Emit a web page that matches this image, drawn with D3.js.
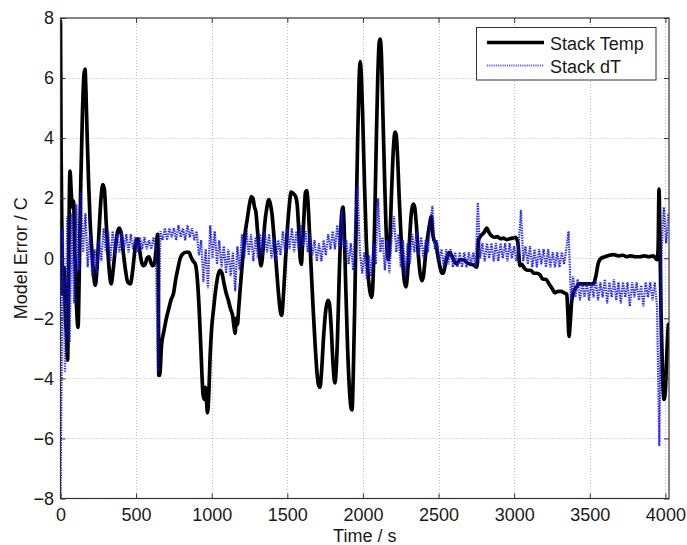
<!DOCTYPE html>
<html>
<head>
<meta charset="utf-8">
<script src="https://cdn.jsdelivr.net/npm/d3@7"></script>
<style>
  html, body { margin: 0; padding: 0; background: #ffffff; }
  svg { display: block; }
  text { font-family: "Liberation Sans", Arial, Helvetica, sans-serif; fill: #1a1a1a; }
</style>
</head>
<body>
<svg id="chart" width="687" height="545"></svg>
<script>
// ---- data -------------------------------------------------------------
const xTicks = [0, 500, 1000, 1500, 2000, 2500, 3000, 3500, 4000];
const yTicks = [-8, -6, -4, -2, 0, 2, 4, 6, 8];
const seriesNames = ["Stack Temp", "Stack dT"];

// Stack temperature model error (time in s, error in C)
const tempTime = [
  0, 4, 9, 16, 24, 32, 40, 47, 53, 58, 63, 70, 78, 86, 96, 106, 116, 124, 134, 145,
  155, 162, 168, 175, 186, 196, 208, 220, 230, 242, 255, 268, 280, 290, 302, 315, 326, 335, 348, 362,
  378, 390, 402, 415, 430, 445, 462, 475, 488, 500, 510, 522, 535, 548, 560, 572, 585, 598, 610, 622,
  632, 642, 646, 650, 656, 668, 685, 700, 715, 730, 748, 762, 778, 792, 810, 830, 850, 862, 878, 892,
  905, 918, 930, 942, 950, 958, 965, 972, 980, 990, 1000, 1012, 1025, 1040, 1055, 1068, 1080, 1095, 1110, 1125,
  1138, 1148, 1155, 1162, 1170, 1178, 1190, 1205, 1220, 1235, 1250, 1262, 1272, 1283, 1292, 1303, 1315, 1326, 1338, 1350,
  1365, 1378, 1388, 1398, 1412, 1428, 1442, 1455, 1463, 1472, 1485, 1498, 1512, 1525, 1540, 1555, 1565, 1575, 1585, 1593,
  1600, 1610, 1620, 1628, 1636, 1648, 1660, 1672, 1684, 1696, 1708, 1716, 1726, 1740, 1755, 1768, 1778, 1790, 1802, 1814,
  1822, 1832, 1842, 1852, 1862, 1868, 1876, 1886, 1898, 1910, 1922, 1928, 1936, 1946, 1956, 1966, 1975, 1982, 1990, 1998,
  2010, 2022, 2034, 2046, 2058, 2068, 2078, 2088, 2098, 2108, 2114, 2122, 2132, 2144, 2156, 2168, 2178, 2190, 2202, 2212,
  2220, 2228, 2240, 2252, 2264, 2275, 2285, 2295, 2308, 2320, 2332, 2342, 2352, 2365, 2378, 2390, 2400, 2412, 2425, 2440,
  2452, 2460, 2470, 2482, 2495, 2510, 2522, 2532, 2545, 2560, 2575, 2590, 2605, 2620, 2640, 2664, 2690, 2710, 2730, 2752,
  2758, 2764, 2780, 2800, 2818, 2835, 2850, 2870, 2890, 2910, 2930, 2950, 2970, 2990, 3010, 3025, 3038, 3050, 3070, 3090,
  3110, 3130, 3150, 3170, 3190, 3210, 3230, 3250, 3270, 3290, 3310, 3330, 3348, 3355, 3363, 3370, 3381, 3395, 3414, 3430,
  3458, 3490, 3524, 3540, 3557, 3575, 3601, 3630, 3656, 3690, 3720, 3744, 3770, 3800, 3832, 3860, 3890, 3920, 3945, 3952,
  3958, 3963, 3972, 3982, 3991, 4000, 4008, 4015, 4020
];
const tempErr = [
  7.9, 3.5, 1.0, -1.2, -0.3, -1.8, -2.6, -3.4, -1.0, 1.8, 2.9, 2.3, 1.7, 1.9, 0.0, -1.6, -2.3, -0.5, 2.5, 4.8,
  6.1, 6.3, 5.6, 4.3, 2.5, 1.2, 0.2, -0.6, -0.9, -0.3, 0.9, 2.0, 2.45, 2.3, 1.2, 0.1, -0.6, -0.85, -0.4, 0.3,
  0.9, 1.0, 0.8, 0.2, -0.4, -0.8, -0.85, -0.5, 0.1, 0.6, 0.65, 0.3, -0.1, -0.25, -0.2, 0.0, 0.05, -0.15, -0.25, -0.15,
  0.3, 0.8, 0.1, -3.9, -3.9, -2.9, -2.4, -2.0, -1.7, -1.4, -1.15, -0.7, -0.3, 0.0, 0.15, 0.2, 0.2, 0.05, -0.1, -0.2,
  -0.7, -1.8, -3.2, -4.5, -4.7, -4.3, -4.7, -5.15, -4.6, -3.2, -2.3, -1.7, -1.1, -0.6, -0.4, -0.5, -0.8, -1.15, -1.4, -1.7,
  -1.9, -2.3, -2.5, -2.0, -2.2, -1.7, -0.9, 0.0, 0.8, 1.3, 1.8, 2.05, 2.0, 1.7, 1.55, 0.9, 0.2, -0.25, 0.2, 1.1,
  1.7, 1.95, 1.8, 1.5, 0.7, -0.3, -1.2, -1.8, -1.9, -1.4, -0.3, 0.8, 1.7, 2.2, 2.15, 2.05, 1.8, 1.0, 0.0, -0.2,
  0.4, 1.4, 2.2, 2.25, 1.9, 0.7, -0.6, -1.8, -2.9, -3.8, -4.25, -4.3, -3.8, -2.6, -1.7, -1.4, -1.5, -2.3, -3.5, -4.15,
  -3.8, -2.6, -0.8, 0.8, 1.6, 1.7, 1.0, -0.9, -2.9, -4.3, -5.0, -5.05, -3.9, -1.5, 1.5, 4.2, 6.0, 6.55, 6.0, 4.8,
  2.5, 0.6, -0.5, -1.1, -1.3, -0.6, 1.3, 3.8, 6.0, 7.2, 7.3, 6.8, 4.8, 2.5, 0.6, -0.05, 0.6, 2.3, 3.7, 4.2,
  4.1, 3.5, 2.0, 0.7, -0.2, -0.8, -0.95, -0.5, 0.6, 1.5, 1.8, 1.7, 1.2, 0.2, -0.5, -0.75, -0.6, 0.0, 0.6, 1.1,
  1.4, 0.9, 0.6, 0.5, 0.1, -0.3, -0.5, -0.5, -0.2, 0.1, 0.2, 0.05, -0.1, -0.2, -0.05, -0.05, -0.15, -0.2, -0.22, -0.3,
  -0.1, 0.6, 0.75, 0.85, 1.0, 0.85, 0.75, 0.7, 0.72, 0.65, 0.67, 0.62, 0.65, 0.67, 0.7, 0.5, -0.25, -0.2, -0.35, -0.4,
  -0.4, -0.5, -0.5, -0.55, -0.7, -0.7, -0.85, -1.0, -1.15, -1.1, -1.1, -1.15, -1.2, -1.8, -2.6, -2.2, -1.4, -1.1, -0.95, -0.85,
  -0.85, -0.85, -0.85, -0.6, -0.15, 0.0, 0.05, 0.1, 0.12, 0.08, 0.1, 0.05, 0.08, 0.05, 0.05, 0.08, 0.05, 0.08, -0.05, 0.3,
  2.3, 1.0, -2.0, -4.0, -4.7, -4.4, -3.4, -2.6, -2.2
];

// Stack temperature-difference model error, logged every 15 s
const dtInterval = 15;
const dtErr = [
  -8.0, 1.0, -3.8, 1.4, -2.8, 1.5, -1.5, 1.8, -0.4, 2.2, 0.2, 1.5, -0.3, 0.8, -0.6, 0.3, -0.5, 0.6, -0.1, 1.0,
  0.2, 0.9, -0.1, 0.9, 0.1, 0.8, 0.2, 0.9, 0.3, 0.8, 0.2, 0.8, 0.3, 0.7, 0.2, 0.7, 0.3, 0.7, 0.3, 0.6,
  0.3, 0.7, 0.3, -3.8, 0.9, 0.6, 1.0, 0.6, 1.0, 0.7, 1.0, 0.6, 1.1, 0.7, 1.0, 0.6, 1.1, 0.7, 1.0, 0.6,
  0.9, 0.1, 0.6, -0.8, 0.3, -1.0, 1.1, 0.0, 0.9, -0.2, 0.6, -0.3, 0.4, -0.5, 0.3, -0.6, 0.2, -1.1, 0.4, -0.4,
  0.8, 0.0, 0.9, 0.1, 0.8, -0.1, 0.7, 0.0, 0.8, 0.1, 0.9, 0.2, 0.8, 0.0, 0.7, -0.1, 0.6, 0.1, 0.9, 0.2,
  1.0, 0.3, 1.0, 0.2, 0.9, 0.3, 1.1, 0.4, 0.9, 0.2, 0.8, 0.1, 0.6, -0.1, 0.5, -0.1, 0.6, 0.1, 0.8, 0.3,
  0.9, 0.3, 1.1, 0.4, 1.6, 0.3, 0.6, -0.2, 0.5, -0.4, 1.2, 2.4, 0.2, -0.5, 0.2, -0.7, 0.1, -0.6, 0.5, -0.2,
  2.0, 0.2, 0.7, -0.4, 0.6, -0.5, 0.7, 1.4, 0.2, 0.8, -0.3, 0.6, -0.6, 0.5, -0.2, 0.8, 0.2, 0.9, 0.1, 0.7,
  0.0, 0.6, 0.2, 1.2, 1.75, 0.3, 0.6, -0.1, 0.3, -0.3, 0.3, -0.2, 0.3, -0.3, 0.2, -0.3, 0.2, -0.3, 0.2, -0.3,
  0.2, -0.2, 0.2, -0.3, 1.85, 0.0, 0.5, -0.1, 0.5, 0.0, 0.5, -0.1, 0.5, -0.1, 0.5, 0.0, 0.5, -0.1, 0.5, 0.0,
  0.4, -0.1, 0.5, 1.6, -0.1, 0.4, -0.2, 0.4, -0.3, 0.3, -0.3, 0.3, -0.2, 0.3, -0.3, 0.3, -0.3, 0.2, -0.3, 0.2,
  -0.3, 0.2, -0.2, 0.3, 0.9, -1.4, -0.6, -1.3, -0.7, -1.4, -0.8, -1.3, -0.8, -1.4, -0.8, -1.3, -0.7, -1.4, -0.8, -1.3,
  -0.7, -1.5, -0.8, -1.3, -0.7, -1.4, -0.8, -1.5, -0.8, -1.3, -0.8, -1.6, -0.8, -1.3, -0.8, -1.4, -0.9, -1.6, -0.8, -1.3,
  -0.8, -1.4, -0.8, -1.6, -6.25, 0.2, 1.7, 0.5, 1.5
];
const dtTime = dtErr.map((_, i) => i * dtInterval);

// ---- layout -----------------------------------------------------------
const svg = d3.select("#chart");
const plot = { left: 60.5, right: 669, top: 18, bottom: 498.5 };
const fontSize = 18;

const x = d3.scaleLinear().domain([0, 4024]).range([plot.left, plot.right]);
const y = d3.scaleLinear().domain([-8, 8]).range([plot.bottom, plot.top]);

svg.append("rect")
  .attr("x", 0).attr("y", 0).attr("width", 687).attr("height", 545)
  .attr("fill", "#ffffff");

// dotted grid
const grid = svg.append("g").attr("class", "grid")
  .attr("stroke", "#bdbdbd").attr("stroke-width", 1)
  .attr("stroke-dasharray", "1,2");
grid.selectAll("line.gx")
  .data(xTicks.filter(d => d > 0))
  .join("line").attr("class", "gx")
  .attr("x1", d => Math.round(x(d)) + 0.5).attr("x2", d => Math.round(x(d)) + 0.5)
  .attr("y1", plot.top).attr("y2", plot.bottom);
grid.selectAll("line.gy")
  .data(yTicks.filter(d => d > -8 && d < 8))
  .join("line").attr("class", "gy")
  .attr("y1", d => Math.round(y(d)) + 0.5).attr("y2", d => Math.round(y(d)) + 0.5)
  .attr("x1", plot.left).attr("x2", plot.right);

// data lines, clipped to the axes box
svg.append("clipPath").attr("id", "plotClip")
  .append("rect")
  .attr("x", plot.left).attr("y", plot.top)
  .attr("width", plot.right - plot.left).attr("height", plot.bottom - plot.top);

const lines = svg.append("g").attr("clip-path", "url(#plotClip)");

const tempLine = d3.line()
  .x(d => x(d[0])).y(d => y(d[1]))
  .curve(d3.curveMonotoneX);
lines.append("path")
  .datum(d3.zip(tempTime, tempErr))
  .attr("d", tempLine)
  .attr("fill", "none")
  .attr("stroke", "#000000")
  .attr("stroke-width", 3.7)
  .attr("stroke-linejoin", "round")
  .attr("stroke-linecap", "round");

const dtLine = d3.line()
  .x(d => x(d[0])).y(d => y(d[1]));
lines.append("path")
  .datum(d3.zip(dtTime, dtErr))
  .attr("d", dtLine)
  .attr("fill", "none")
  .attr("stroke", "#0f0fff")
  .attr("stroke-opacity", 0.9)
  .attr("stroke-width", 2.2)
  .attr("stroke-dasharray", "1.4,1.1");

// axes: inward ticks on all four sides (MATLAB box style)
const axisColor = "#333333";
function styleAxis(g) {
  g.select(".domain").remove();
  g.selectAll(".tick line").attr("stroke", axisColor);
  g.selectAll(".tick text")
    .attr("font-size", fontSize)
    .attr("fill", "#1a1a1a")
    .style("font-family", "'Liberation Sans', Arial, Helvetica, sans-serif");
}

svg.append("g")
  .attr("transform", `translate(0,${plot.bottom})`)
  .call(d3.axisBottom(x).tickValues(xTicks).tickSize(-5).tickPadding(9.5).tickFormat(d3.format("d")))
  .call(styleAxis);
svg.append("g")
  .attr("transform", `translate(0,${plot.top})`)
  .call(d3.axisTop(x).tickValues(xTicks).tickSize(-5).tickFormat(""))
  .call(styleAxis);
svg.append("g")
  .attr("transform", `translate(${plot.left},0)`)
  .call(d3.axisLeft(y).tickValues(yTicks).tickSize(-5).tickPadding(6.5).tickFormat(d3.format("d")))
  .call(styleAxis);
svg.append("g")
  .attr("transform", `translate(${plot.right},0)`)
  .call(d3.axisRight(y).tickValues(yTicks).tickSize(-5).tickFormat(""))
  .call(styleAxis);

// axes box
svg.append("rect")
  .attr("x", plot.left).attr("y", plot.top)
  .attr("width", plot.right - plot.left).attr("height", plot.bottom - plot.top)
  .attr("fill", "none").attr("stroke", axisColor).attr("stroke-width", 1.2);

// axis titles
svg.append("text")
  .attr("x", (plot.left + plot.right) / 2).attr("y", 541.5)
  .attr("text-anchor", "middle").attr("font-size", fontSize)
  .text("Time / s");
svg.append("text")
  .attr("transform", `translate(27,${(plot.top + plot.bottom) / 2}) rotate(-90)`)
  .attr("text-anchor", "middle").attr("font-size", fontSize)
  .text("Model Error / C");

// legend
const legend = svg.append("g");
legend.append("rect")
  .attr("x", 476.5).attr("y", 27.5).attr("width", 179.5).attr("height", 52.5)
  .attr("fill", "#ffffff").attr("stroke", axisColor).attr("stroke-width", 1);
legend.append("line")
  .attr("x1", 487).attr("x2", 544).attr("y1", 42.5).attr("y2", 42.5)
  .attr("stroke", "#000000").attr("stroke-width", 3.7);
legend.append("line")
  .attr("x1", 487).attr("x2", 544).attr("y1", 65.5).attr("y2", 65.5)
  .attr("stroke", "#1a1aff").attr("stroke-opacity", 0.7)
  .attr("stroke-width", 1.8).attr("stroke-dasharray", "1.2,1");
legend.append("text")
  .attr("x", 550).attr("y", 49.5).attr("font-size", fontSize)
  .text(seriesNames[0]);
legend.append("text")
  .attr("x", 550).attr("y", 72.5).attr("font-size", fontSize)
  .text(seriesNames[1]);
</script>
</body>
</html>
